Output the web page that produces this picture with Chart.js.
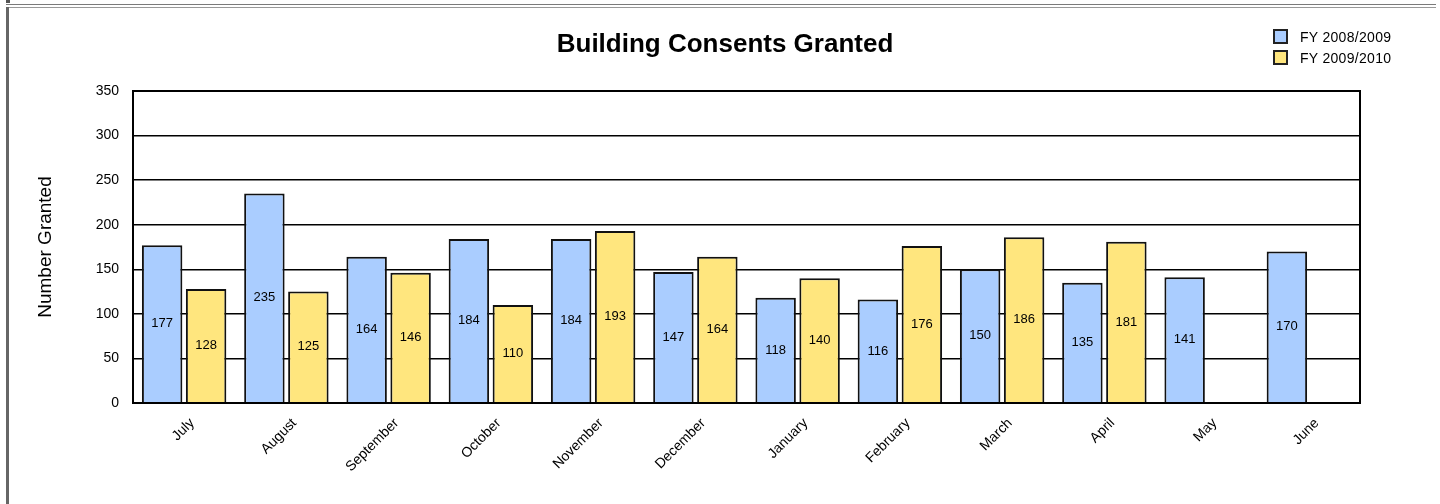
<!DOCTYPE html>
<html>
<head>
<meta charset="utf-8">
<title>Building Consents Granted</title>
<script src="https://cdn.jsdelivr.net/npm/chart.js@4"></script>
<style>
  html, body { margin: 0; padding: 0; background: #fff; }
  #wrap { position: relative; width: 1440px; height: 504px; overflow: hidden; }
  #chart { position: absolute; left: 0; top: 0; }
  .rule { position: absolute; background: #7a7a7a; }
  #legend { position: absolute; left: 1273px; top: 26px; font: 14px "Liberation Sans", Arial, sans-serif; color: #000; letter-spacing: 0.3px; }
  #legend .item { display: flex; align-items: center; height: 21px; }
  #legend .box { width: 11px; height: 11px; border: 2px solid #222; margin-right: 12px; }
</style>
</head>
<body>
<div id="wrap">
  <canvas id="chart" width="1440" height="504"></canvas>
  <div class="rule" style="left:6px;top:0;width:4px;height:3px;background:#555"></div>
  <div class="rule" style="left:6px;top:4px;width:1430px;height:1px"></div>
  <div class="rule" style="left:6px;top:7px;width:1430px;height:1px;background:#999"></div>
  <div class="rule" style="left:6px;top:7px;width:3px;height:497px;background:#666"></div>
  <div id="legend"></div>
</div>
<script>
const months = ["July", "August", "September", "October", "November", "December",
  "January", "February", "March", "April", "May", "June"]
const fy0809 = [177, 235, 164, 184, 184, 147, 118, 116, 150, 135, 141, 170]
const fy0910 = [128, 125, 146, 110, 193, 164, 140, 176, 186, 181, null, null]
const seriesNames = ["FY 2008/2009", "FY 2009/2010"]
const yTicks = [0, 50, 100, 150, 200, 250, 300, 350]
const chartTitle = "Building Consents Granted"

const blue = "#aacdff"
const yellow = "#ffe67e"
const font = "'Liberation Sans', Arial, sans-serif"

// title centred on the whole panel, not just between the paddings
const panelTitle = {
  id: "panelTitle",
  afterDraw(chart) {
    const ctx = chart.ctx
    ctx.save()
    ctx.font = "bold 26px " + font
    ctx.fillStyle = "#000"
    ctx.textAlign = "center"
    ctx.textBaseline = "middle"
    ctx.fillText(chartTitle, (10 + chart.width) / 2, 45)
    ctx.restore()
  },
}

// writes each bar's value in the middle of the bar
const barValues = {
  id: "barValues",
  afterDatasetsDraw(chart) {
    const ctx = chart.ctx
    ctx.save()
    ctx.font = "13px " + font
    ctx.fillStyle = "#000"
    ctx.textAlign = "center"
    ctx.textBaseline = "middle"
    chart.data.datasets.forEach((ds, i) => {
      chart.getDatasetMeta(i).data.forEach((bar, j) => {
        const v = ds.data[j]
        if (v == null) return
        ctx.fillText(String(v), bar.x, (bar.y + bar.base) / 2)
      })
    })
    ctx.restore()
  },
}

// black frame round the plot area
const plotFrame = {
  id: "plotFrame",
  afterDraw(chart) {
    const {left, top, right, bottom} = chart.chartArea
    const ctx = chart.ctx
    ctx.save()
    ctx.strokeStyle = "#000"
    ctx.lineWidth = 2
    ctx.strokeRect(left, top, right - left, bottom - top)
    ctx.restore()
  },
}

const chart = new Chart(document.getElementById("chart"), {
  type: "bar",
  data: {
    labels: months,
    datasets: [
      {label: seriesNames[0], data: fy0809, backgroundColor: blue, borderColor: "#111", borderWidth: 2},
      {label: seriesNames[1], data: fy0910, backgroundColor: yellow, borderColor: "#111", borderWidth: 2},
    ],
  },
  options: {
    responsive: false,
    animation: false,
    layout: {padding: {left: 30, right: 80, top: 91, bottom: 0}},
    datasets: {bar: {categoryPercentage: 0.86, barPercentage: 0.92}},
    plugins: {
      legend: {display: false},
      tooltip: {enabled: false},
      title: {display: false},
    },
    scales: {
      x: {
        grid: {display: false, drawTicks: false},
        border: {display: false},
        ticks: {
          color: "#000",
          font: {family: font, size: 14},
          maxRotation: 45,
          minRotation: 45,
          padding: 12,
          labelOffset: 8,
          autoSkip: false,
        },
        afterFit(scale) { scale.height = 101 },
      },
      y: {
        min: 0,
        max: 350,
        afterBuildTicks(scale) { scale.ticks = yTicks.map((v) => ({value: v})) },
        grid: {color: "#000", lineWidth: 1.5, drawTicks: false},
        border: {display: false},
        ticks: {
          color: "#000",
          font: {family: font, size: 14},
          padding: 14,
        },
        title: {
          display: true,
          text: "Number Granted",
          color: "#000",
          font: {family: font, size: 19},
          padding: {top: 4, bottom: 0},
        },
        afterFit(scale) { scale.width = 103 },
      },
    },
  },
  plugins: [barValues, plotFrame, panelTitle],
})

// legend built from the datasets
const legend = document.getElementById("legend")
chart.data.datasets.forEach((ds) => {
  const item = document.createElement("div")
  item.className = "item"
  const box = document.createElement("div")
  box.className = "box"
  box.style.background = ds.backgroundColor
  const text = document.createElement("span")
  text.textContent = ds.label
  item.appendChild(box)
  item.appendChild(text)
  legend.appendChild(item)
})
</script>
</body>
</html>
